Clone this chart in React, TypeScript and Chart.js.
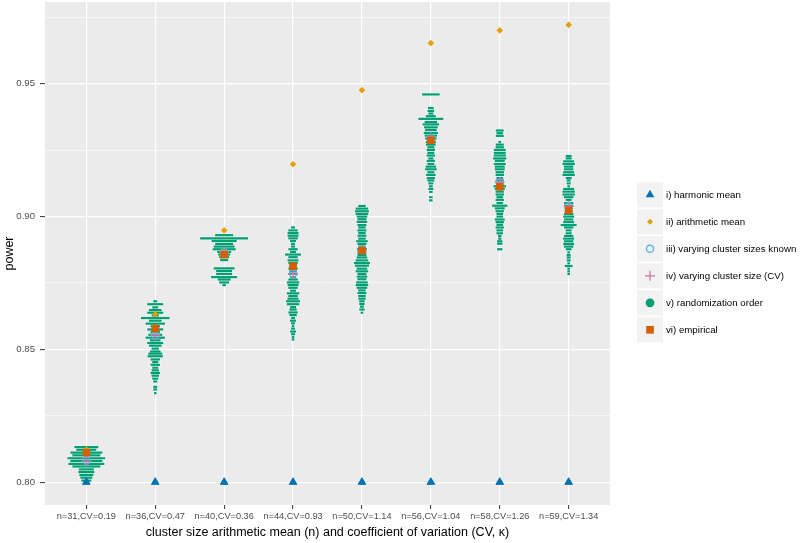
import React, { useEffect, useRef } from "react";
import { Chart, registerables } from "chart.js";

Chart.register(...registerables);

// ---------------- data ----------------
const categories = [
  "n=31,CV=0.19",
  "n=36,CV=0.47",
  "n=40,CV=0.36",
  "n=44,CV=0.93",
  "n=50,CV=1.14",
  "n=56,CV=1.04",
  "n=58,CV=1.26",
  "n=59,CV=1.34",
];

const harmonicMean = [0.8, 0.8, 0.8, 0.8, 0.8, 0.8, 0.8, 0.8];
const arithmeticMean = [0.8123, 0.8632, 0.8948, 0.9197, 0.9476, 0.9653, 0.9701, 0.9722];
const varyingSizesKnown = [0.8082, 0.8553, 0.8866, 0.8785, 0.8876, 0.9296, 0.9128, 0.9038];
const varyingSizeCV = [0.8078, 0.8555, 0.8868, 0.8783, 0.8875, 0.9298, 0.913, 0.9039];
const empirical = [0.8111, 0.8579, 0.8857, 0.8813, 0.8872, 0.9287, 0.9112, 0.9024];

// randomization order: binned power values and stack counts per category
const rand1Power = [0.8132, 0.8122, 0.8111, 0.8101, 0.809, 0.808, 0.8069, 0.8059, 0.8048, 0.8038, 0.8027, 0.8017, 0.8006];
const rand1Count = [12, 10, 16, 14, 19, 16, 18, 14, 7.5, 8, 7, 6, 5];

const rand2Power = [0.8681, 0.867, 0.8658, 0.8648, 0.8638, 0.8628, 0.8618, 0.8608, 0.8597, 0.8587, 0.8575, 0.8565, 0.8555, 0.8544, 0.8534, 0.8524, 0.8514, 0.8503, 0.8492, 0.8484, 0.8474, 0.8462, 0.8452, 0.8442, 0.8431, 0.8421, 0.8411, 0.8401, 0.839, 0.8379, 0.8359, 0.8349, 0.8335];
const rand2Count = [2, 8, 3, 6.3, 8, 3.7, 14.3, 6.3, 9.7, 4.7, 8, 4.7, 7, 9.7, 5.3, 8, 6.3, 3.7, 5.3, 7, 7.7, 4.7, 3, 4.7, 3, 3.7, 4.7, 3.7, 3, 2, 2, 2, 1.3];

const rand3Power = [0.893, 0.8918, 0.8908, 0.8897, 0.8887, 0.8877, 0.8867, 0.8857, 0.8847, 0.8836, 0.8805, 0.8795, 0.8784, 0.8772, 0.8763, 0.8752, 0.8742];
const rand3Count = [9, 24, 12.5, 9, 10.5, 11.5, 7, 6, 5, 4, 10.5, 8, 8, 13, 6.5, 5, 1.7];

const rand4Power = [0.8959, 0.8948, 0.8938, 0.8928, 0.8918, 0.8908, 0.8897, 0.8887, 0.8877, 0.8867, 0.8857, 0.8847, 0.8835, 0.8825, 0.8815, 0.8804, 0.8794, 0.8784, 0.8772, 0.8763, 0.8752, 0.8742, 0.8732, 0.8721, 0.8711, 0.8701, 0.8691, 0.8681, 0.867, 0.8659, 0.865, 0.8639, 0.8629, 0.8618, 0.8608, 0.8598, 0.8588, 0.8578, 0.8567, 0.8557, 0.8546, 0.8537];
const rand4Count = [2, 4.7, 5.5, 5.5, 4.7, 3, 2, 2, 4.7, 3, 8, 4.7, 5.5, 4.7, 3.7, 4.7, 3.7, 4.7, 3, 4.7, 6.3, 5.5, 4.7, 3, 6.3, 4.7, 5.5, 7, 6.3, 3, 3.7, 4.7, 3.7, 2, 3, 2, 1.3, 2, 3, 2, 1.3, 1.3];

const rand5Power = [0.904, 0.903, 0.902, 0.901, 0.9, 0.899, 0.898, 0.8968, 0.8959, 0.8948, 0.8938, 0.8928, 0.8917, 0.8907, 0.8897, 0.8887, 0.8877, 0.8865, 0.8855, 0.8846, 0.8835, 0.8825, 0.8815, 0.8804, 0.8794, 0.8784, 0.8774, 0.8764, 0.8752, 0.8742, 0.8732, 0.8722, 0.8712, 0.8701, 0.8691, 0.8681, 0.8671, 0.8661, 0.865, 0.8638];
const rand5Count = [3.7, 6.3, 7, 6.3, 5.3, 4.5, 5.3, 4.5, 3.7, 4.5, 3.7, 4.5, 3.7, 5.8, 4.5, 3.7, 5, 4.5, 4.5, 5.3, 6.3, 8, 7, 5.3, 6.3, 4.5, 5.3, 4.5, 5.8, 6.3, 5.3, 3.7, 4.5, 3.7, 3.7, 2.7, 2.7, 2, 2.7, 1.3];

const rand6Power = [0.946, 0.9409, 0.9398, 0.9388, 0.9378, 0.9368, 0.9356, 0.9347, 0.9336, 0.9326, 0.9315, 0.9305, 0.9294, 0.9281, 0.9271, 0.9261, 0.9251, 0.924, 0.923, 0.9219, 0.921, 0.9198, 0.9188, 0.9178, 0.9167, 0.9157, 0.9145, 0.9136, 0.9125, 0.9114, 0.9104, 0.9093, 0.9073, 0.9061];
const rand6Count = [8.8, 2.8, 3.3, 2.5, 5, 12.5, 6.2, 8.3, 6.8, 5.8, 7.2, 6.2, 5.8, 5, 4.8, 3.5, 4.2, 3.5, 4.2, 2.5, 4.2, 3.5, 5.2, 5.8, 3.5, 4.8, 4.2, 3.5, 2.5, 1.8, 2.5, 1.8, 1.8, 1.8];

const rand7Power = [0.9324, 0.9314, 0.9304, 0.9281, 0.9271, 0.9261, 0.9251, 0.924, 0.923, 0.9219, 0.921, 0.9198, 0.9188, 0.9178, 0.9167, 0.9157, 0.9145, 0.9136, 0.9125, 0.9114, 0.9104, 0.9094, 0.9083, 0.9073, 0.9063, 0.9051, 0.9041, 0.9031, 0.902, 0.901, 0.9, 0.8989, 0.8979, 0.8969, 0.8959, 0.8948, 0.8937, 0.8927, 0.8917, 0.8907, 0.8898, 0.8877];
const rand7Count = [4, 3.3, 4, 1.3, 4, 4.2, 6, 6, 6, 6.7, 5, 6, 5, 5, 4.2, 4.2, 3.3, 4.2, 3.3, 6.3, 5, 4.2, 4.2, 3.3, 4.2, 3.3, 7.7, 5, 4.2, 3.3, 3.3, 5, 4.2, 3.3, 4.2, 3.3, 3.3, 1.7, 1.7, 2.7, 2.7, 2.7];

const rand8Power = [0.9228, 0.9219, 0.9208, 0.9198, 0.9188, 0.9178, 0.9167, 0.9157, 0.9145, 0.9136, 0.9125, 0.9114, 0.9104, 0.9094, 0.9083, 0.9073, 0.9063, 0.9051, 0.9041, 0.9031, 0.902, 0.901, 0.9, 0.8989, 0.8979, 0.8968, 0.8959, 0.8948, 0.8937, 0.8927, 0.8917, 0.8907, 0.8897, 0.8887, 0.8877, 0.8865, 0.8855, 0.8846, 0.8835, 0.8824, 0.8814, 0.8804, 0.8794, 0.8784];
const rand8Count = [3, 3, 5.5, 6.2, 4.7, 4.7, 5.5, 6.2, 3, 2, 2, 1.3, 5.5, 6.2, 6.2, 4.7, 3, 4.7, 4.7, 4, 4, 4.7, 5.5, 4.7, 5.5, 8, 4.7, 3, 3, 4.7, 5.5, 4.7, 5.5, 4.7, 3, 1.3, 2, 2, 2, 1.3, 4, 1.3, 1.3, 1.3];

const yMajorTicks = [0.8, 0.85, 0.9, 0.95];
const yMinorTicks = [0.825, 0.875, 0.925, 0.975];

const legendLabels = [
  "i) harmonic mean",
  "ii) arithmetic mean",
  "iii) varying cluster sizes known",
  "iv) varying cluster size (CV)",
  "v) randomization order",
  "vi) empirical",
];

const xTitle = "cluster size arithmetic mean (n) and coefficient of variation (CV, \u03BA)";
const yTitle = "power";

// ---------------- styles ----------------
const Y_MIN = 0.7914;
const Y_MAX = 0.9808;
const FONT = "'Liberation Sans', Arial, Helvetica, sans-serif";
const C_HARM = "#0072B2";
const C_ARITH = "#E69F00";
const C_KNOWN = "#56B4E9";
const C_CV = "#CC79A7";
const C_RAND = "#009E73";
const C_EMP = "#D55E00";
const DASH_PX_PER_COUNT = 1;

const randPower = [rand1Power, rand2Power, rand3Power, rand4Power, rand5Power, rand6Power, rand7Power, rand8Power];
const randCount = [rand1Count, rand2Count, rand3Count, rand4Count, rand5Count, rand6Count, rand7Count, rand8Count];

function isMajor(v: number) {
  return yMajorTicks.some((t) => Math.abs(t - v) < 1e-6);
}

function drawShape(ctx: CanvasRenderingContext2D, kind: number, x: number, y: number) {
  ctx.save();
  switch (kind) {
    case 0: {
      ctx.fillStyle = C_HARM;
      ctx.beginPath();
      const r = 5;
      ctx.moveTo(x, y - r);
      ctx.lineTo(x + r * 0.866, y + r * 0.5);
      ctx.lineTo(x - r * 0.866, y + r * 0.5);
      ctx.closePath();
      ctx.fill();
      break;
    }
    case 1: {
      ctx.fillStyle = C_ARITH;
      ctx.beginPath();
      const r = 3;
      ctx.moveTo(x - r, y);
      ctx.lineTo(x, y - r);
      ctx.lineTo(x + r, y);
      ctx.lineTo(x, y + r);
      ctx.closePath();
      ctx.fill();
      break;
    }
    case 2: {
      ctx.strokeStyle = C_KNOWN;
      ctx.lineWidth = 1.4;
      ctx.beginPath();
      ctx.arc(x, y, 3.6, 0, Math.PI * 2);
      ctx.stroke();
      break;
    }
    case 3: {
      ctx.strokeStyle = C_CV;
      ctx.lineWidth = 1.3;
      ctx.beginPath();
      ctx.moveTo(x - 5, y);
      ctx.lineTo(x + 5, y);
      ctx.moveTo(x, y - 5);
      ctx.lineTo(x, y + 5);
      ctx.stroke();
      break;
    }
    case 4: {
      ctx.fillStyle = C_RAND;
      ctx.beginPath();
      ctx.arc(x, y, 4.4, 0, Math.PI * 2);
      ctx.fill();
      break;
    }
    case 5: {
      ctx.fillStyle = C_EMP;
      ctx.fillRect(x - 3.8, y - 3.8, 7.6, 7.6);
      break;
    }
  }
  ctx.restore();
}

const ggPlugin = {
  id: "ggDecor",
  beforeDraw(chart: any) {
    const { ctx, chartArea } = chart;
    ctx.save();
    ctx.fillStyle = "#EBEBEB";
    ctx.fillRect(chartArea.left, chartArea.top, chartArea.right - chartArea.left, chartArea.bottom - chartArea.top);
    ctx.restore();
  },
  afterDraw(chart: any) {
    const { ctx, chartArea } = chart;
    ctx.save();
    // axis titles
    ctx.fillStyle = "#000000";
    ctx.font = `12.5px ${FONT}`;
    ctx.textAlign = "center";
    ctx.textBaseline = "middle";
    ctx.fillText(xTitle, (chartArea.left + chartArea.right) / 2, 533);
    ctx.save();
    ctx.translate(9.5, (chartArea.top + chartArea.bottom) / 2);
    ctx.rotate(-Math.PI / 2);
    ctx.fillText(yTitle, 0, 0);
    ctx.restore();

    // legend
    const keyX = chartArea.right + 27;
    const keySize = 25;
    const pitch = 27;
    const top0 = 182.3;
    ctx.font = `9.7px ${FONT}`;
    ctx.textAlign = "left";
    ctx.textBaseline = "middle";
    legendLabels.forEach((lab, i) => {
      const yTop = top0 + i * pitch;
      ctx.fillStyle = "#F2F2F2";
      ctx.fillRect(keyX, yTop, keySize + 1, keySize);
      drawShape(ctx, i, keyX + keySize / 2 + 0.5, yTop + keySize / 2);
      ctx.fillStyle = "#000000";
      ctx.fillText(lab, keyX + 29, yTop + keySize / 2 + 0.5);
    });
    ctx.restore();
  },
};

export default function App() {
  const canvasRef = useRef<HTMLCanvasElement | null>(null);

  useEffect(() => {
    if (!canvasRef.current) return;

    const randPoints: any[] = [];
    randPower.forEach((arr, i) => {
      arr.forEach((p, j) => {
        randPoints.push({ x: i + 1, y: p, n: randCount[i][j] });
      });
    });

    const pts = (arr: number[]) => arr.map((v, i) => ({ x: i + 1, y: v }));

    const chart = new Chart(canvasRef.current, {
      type: "scatter",
      data: {
        datasets: [
          {
            label: legendLabels[5],
            data: pts(empirical),
            pointStyle: "rect",
            pointRadius: 4.6,
            backgroundColor: C_EMP,
            borderColor: C_EMP,
            borderWidth: 1,
            order: 1,
          },
          {
            label: legendLabels[3],
            data: pts(varyingSizeCV),
            pointStyle: "cross",
            pointRadius: 5,
            backgroundColor: C_CV,
            borderColor: C_CV,
            borderWidth: 1.3,
            order: 2,
          },
          {
            label: legendLabels[2],
            data: pts(varyingSizesKnown),
            pointStyle: "circle",
            pointRadius: 3.6,
            backgroundColor: "rgba(0,0,0,0)",
            borderColor: C_KNOWN,
            borderWidth: 1.3,
            order: 3,
          },
          {
            label: legendLabels[1],
            data: pts(arithmeticMean),
            pointStyle: "rectRot",
            pointRadius: 2.8,
            backgroundColor: C_ARITH,
            borderColor: C_ARITH,
            borderWidth: 1,
            order: 4,
          },
          {
            label: legendLabels[0],
            data: pts(harmonicMean),
            pointStyle: "triangle",
            pointRadius: 4.4,
            backgroundColor: C_HARM,
            borderColor: C_HARM,
            borderWidth: 1,
            order: 5,
          },
          {
            label: legendLabels[4],
            data: randPoints,
            pointStyle: "line",
            pointRadius: (c: any) => (c.raw ? c.raw.n * DASH_PX_PER_COUNT : 0),
            borderColor: C_RAND,
            backgroundColor: C_RAND,
            borderWidth: 2.2,
            order: 6,
          },
          {
            label: "halo",
            data: randPoints,
            pointStyle: "line",
            pointRadius: (c: any) => (c.raw ? c.raw.n * DASH_PX_PER_COUNT + 0.8 : 0),
            borderColor: "rgba(255,255,255,0.45)",
            backgroundColor: "rgba(255,255,255,0.45)",
            borderWidth: 3.4,
            order: 7,
          },
        ],
      },
      options: {
        animation: false,
        responsive: false,
        maintainAspectRatio: false,
        devicePixelRatio: 1,
        events: [],
        layout: { autoPadding: false, padding: { left: 0, top: 2, right: 190, bottom: 0 } },
        plugins: {
          legend: { display: false },
          tooltip: { enabled: false },
          title: { display: false },
        },
        scales: {
          x: {
            type: "linear",
            min: 0.4,
            max: 8.6,
            afterBuildTicks: (s: any) => {
              s.ticks = categories.map((_, i) => ({ value: i + 1 }));
            },
            afterFit: (s: any) => {
              s.height = 38;
              s.paddingLeft = 0;
              s.paddingRight = 0;
              s.paddingTop = 0;
              s.paddingBottom = 0;
            },
            ticks: {
              autoSkip: false,
              maxRotation: 0,
              minRotation: 0,
              color: "#4D4D4D",
              font: { family: FONT, size: 9.2 },
              padding: 2,
              callback: (v: any) => categories[Math.round(Number(v)) - 1] ?? "",
            },
            grid: {
              color: "#FFFFFF",
              lineWidth: 1.2,
              tickColor: "#333333",
              tickLength: 4,
              tickWidth: 1,
            },
            border: { display: false },
          },
          y: {
            type: "linear",
            min: Y_MIN,
            max: Y_MAX,
            afterBuildTicks: (s: any) => {
              s.ticks = [...yMajorTicks, ...yMinorTicks].sort((a, b) => a - b).map((v) => ({ value: v }));
            },
            afterFit: (s: any) => {
              s.width = 45;
              s.paddingLeft = 0;
              s.paddingRight = 0;
              s.paddingTop = 0;
              s.paddingBottom = 0;
            },
            ticks: {
              autoSkip: false,
              color: "#4D4D4D",
              font: { family: FONT, size: 9.6 },
              padding: 5,
              callback: (v: any) => (isMajor(Number(v)) ? Number(v).toFixed(2) : ""),
            },
            grid: {
              color: "#FFFFFF",
              lineWidth: (c: any) => (c.tick && isMajor(c.tick.value) ? 1.2 : 0.6),
              tickColor: (c: any) => (c.tick && isMajor(c.tick.value) ? "#333333" : "rgba(0,0,0,0)"),
              tickLength: 5,
              tickWidth: 1,
            },
            border: { display: false },
          },
        },
      },
      plugins: [ggPlugin],
    } as any);

    return () => chart.destroy();
  }, []);

  return (
    <div style={{ position: "absolute", left: 0, top: 0, width: 800, height: 543, background: "#FFFFFF" }}>
      <canvas ref={canvasRef} width={800} height={543} style={{ display: "block", width: 800, height: 543 }} />
    </div>
  );
}
